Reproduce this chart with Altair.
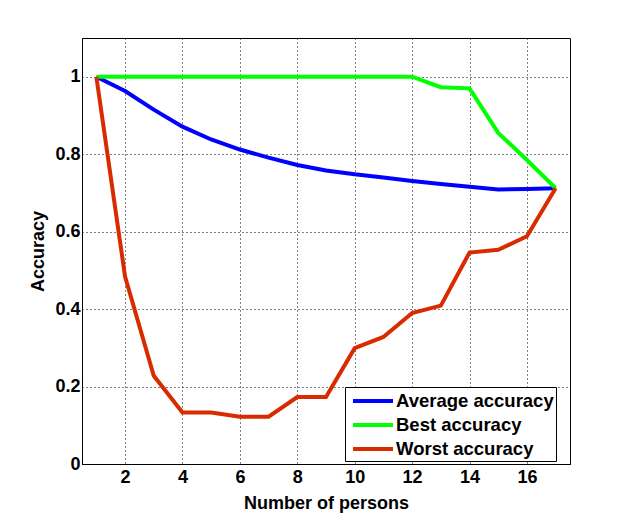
import altair as alt
import pandas as pd

persons = list(range(1, 18))
avg_acc = [1.0, 0.963, 0.915, 0.871, 0.838, 0.812, 0.791, 0.772, 0.758, 0.748,
           0.740, 0.731, 0.723, 0.716, 0.709, 0.710, 0.712]
best_acc = [1.0, 1.0, 1.0, 1.0, 1.0, 1.0, 1.0, 1.0, 1.0, 1.0, 1.0, 1.0,
            0.973, 0.970, 0.855, 0.785, 0.712]
worst_acc = [1.0, 0.484, 0.228, 0.133, 0.133, 0.122, 0.122, 0.173, 0.173, 0.299,
             0.328, 0.390, 0.409, 0.546, 0.553, 0.588, 0.712]
series = ["Average accuracy", "Best accuracy", "Worst accuracy"]
colors = ["#0000FF", "#00FF00", "#D92B00"]
x_ticks = [2, 4, 6, 8, 10, 12, 14, 16]
y_ticks = [0, 0.2, 0.4, 0.6, 0.8, 1.0]

rows = []
for name, vals in zip(series, [avg_acc, best_acc, worst_acc]):
    for p, v in zip(persons, vals):
        rows.append({"persons": p, "acc": v, "series": name})
df = pd.DataFrame(rows)

FONT = "Liberation Sans"

chart = alt.Chart(df).mark_line(strokeWidth=4, clip=True).encode(
    x=alt.X("persons:Q",
            scale=alt.Scale(domain=[0.5, 17.5], nice=False, zero=False),
            axis=alt.Axis(values=x_ticks, title="Number of persons", format="~g",
                          titlePadding=8, labelPadding=4)),
    y=alt.Y("acc:Q",
            scale=alt.Scale(domain=[0, 1.1], nice=False),
            axis=alt.Axis(values=y_ticks, title="Accuracy", format="~g",
                          titlePadding=7, labelPadding=2)),
    color=alt.Color("series:N",
                    scale=alt.Scale(domain=series, range=colors),
                    legend=alt.Legend(title=None, orient="none", legendX=263, legendY=349,
                                      symbolType="M-2,0H2", symbolSize=400,
                                      symbolStrokeWidth=4, symbolOffset=14,
                                      labelOffset=11,
                                      labelFont=FONT, labelFontSize=18.5,
                                      labelFontWeight="bold", labelColor="black",
                                      labelLimit=300, rowPadding=2, padding=2,
                                      strokeColor="black", fillColor="white")),
).properties(
    width=488, height=426,
    background="white",
    autosize=alt.AutoSizeParams(type="none"),
    padding={"left": 74, "top": 30, "right": 52, "bottom": 49},
).configure_view(
    stroke="black", strokeWidth=1
).configure_axis(
    grid=True, gridColor="black", gridDash=[1, 3], gridOpacity=1, gridWidth=1,
    domain=True, domainColor="black", domainWidth=1,
    ticks=False,
    labelFont=FONT, labelFontSize=18, labelFontWeight="bold", labelColor="black",
    titleFont=FONT, titleFontSize=18, titleFontWeight="bold", titleColor="black",
)

chart.save("out.html", embed_options={"renderer": "svg", "actions": False})
